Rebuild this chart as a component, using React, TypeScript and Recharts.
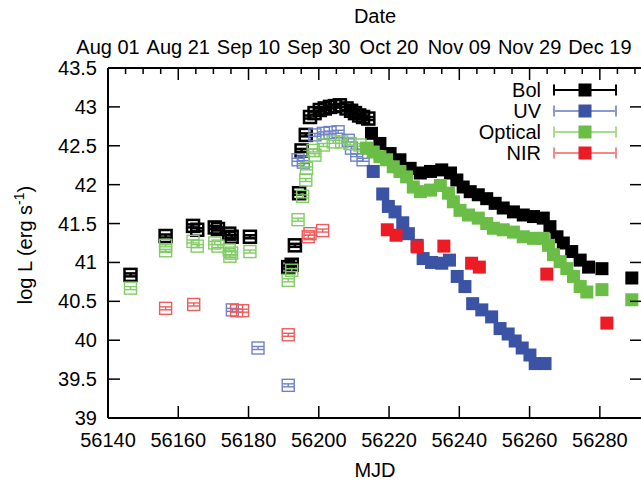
import React from "react";
import {
	ScatterChart,
	Scatter,
	XAxis,
	YAxis,
	ReferenceLine,
	Legend,
} from "recharts";

// [MJD, log L]
const bolOpen: [number, number][] = [
	[56146.4, 40.84], [56156.4, 41.34], [56164.2, 41.47], [56165.4, 41.42],
	[56170.4, 41.45], [56171.3, 41.43], [56174.5, 41.37], [56175.2, 41.33],
	[56180.4, 41.33], [56191.3, 40.94], [56192.3, 40.97], [56193.2, 41.22],
	[56194.4, 41.89], [56195.1, 42.44], [56196.3, 42.64], [56197.5, 42.87],
	[56198.8, 42.92], [56200.3, 42.96], [56201.7, 42.98], [56203.2, 43.0],
	[56204.6, 43.01], [56206.0, 43.02], [56207.9, 42.98], [56209.2, 42.95],
	[56210.3, 42.92], [56211.5, 42.89], [56212.6, 42.87], [56214.1, 42.85],
];
const bolFilled: [number, number][] = [
	[56215.0, 42.66], [56217.4, 42.53], [56220.3, 42.4], [56223.1, 42.32],
	[56226.0, 42.21], [56228.9, 42.15], [56231.8, 42.17], [56235.0, 42.19],
	[56237.5, 42.15], [56239.3, 42.06], [56241.1, 41.97], [56243.1, 41.91],
	[56245.4, 41.87], [56247.8, 41.82], [56250.2, 41.76], [56252.5, 41.7],
	[56255.4, 41.65], [56258.2, 41.61], [56261.1, 41.59], [56263.9, 41.57],
	[56265.8, 41.46], [56267.8, 41.33], [56269.6, 41.25], [56272.0, 41.14],
	[56274.4, 41.03], [56276.8, 40.94], [56280.6, 40.92], [56289.1, 40.8],
];
const uvOpen: [number, number][] = [
	[56175.4, 40.39], [56182.7, 39.9], [56191.3, 39.42], [56194.1, 42.32],
	[56195.6, 42.29], [56198.9, 42.64], [56201.3, 42.66], [56203.2, 42.67],
	[56205.5, 42.68], [56208.4, 42.57], [56209.3, 42.47], [56210.8, 42.38],
	[56212.6, 42.32],
];
const uvFilled: [number, number][] = [
	[56215.5, 42.17], [56218.2, 41.88], [56219.8, 41.72], [56221.7, 41.65],
	[56223.9, 41.51], [56225.5, 41.37], [56228.0, 41.22], [56229.7, 41.05],
	[56232.1, 41.0], [56235.0, 40.99], [56237.2, 41.03], [56239.4, 40.82],
	[56241.6, 40.69], [56243.8, 40.47], [56246.4, 40.39], [56249.2, 40.3],
	[56251.6, 40.15], [56253.9, 40.08], [56255.9, 39.99], [56257.9, 39.9],
	[56260.1, 39.81], [56261.6, 39.7], [56264.4, 39.7],
];
const optOpen: [number, number][] = [
	[56146.4, 40.67], [56156.4, 41.22], [56156.4, 41.15], [56164.2, 41.27],
	[56165.4, 41.21], [56170.4, 41.25], [56171.3, 41.21], [56174.5, 41.16],
	[56175.2, 41.12], [56174.7, 41.08], [56180.4, 41.14], [56191.3, 40.77],
	[56192.3, 40.9], [56194.1, 41.55], [56195.4, 41.85], [56196.3, 42.06],
	[56196.5, 42.21], [56198.4, 42.44], [56198.9, 42.38], [56201.3, 42.51],
	[56204.1, 42.55], [56206.5, 42.55], [56208.9, 42.53], [56211.7, 42.51],
];
const optFilled: [number, number][] = [
	[56213.6, 42.47], [56215.5, 42.42], [56217.4, 42.36], [56219.3, 42.32],
	[56221.2, 42.23], [56223.1, 42.17], [56225.0, 42.1], [56226.9, 41.97],
	[56228.9, 41.91], [56231.8, 41.93], [56234.6, 41.99], [56236.9, 41.89],
	[56238.3, 41.78], [56240.2, 41.67], [56242.6, 41.61], [56245.4, 41.57],
	[56247.8, 41.5], [56249.7, 41.44], [56252.5, 41.42], [56255.4, 41.39],
	[56258.2, 41.33], [56261.1, 41.31], [56263.9, 41.31], [56265.4, 41.22],
	[56266.8, 41.1], [56268.7, 41.01], [56270.6, 40.92], [56272.5, 40.82],
	[56274.4, 40.69], [56276.3, 40.62], [56280.6, 40.65], [56289.1, 40.52],
];
const nirOpen: [number, number][] = [
	[56156.4, 40.41], [56164.4, 40.46], [56176.6, 40.38], [56178.3, 40.38],
	[56191.3, 40.07], [56197.0, 41.33], [56197.5, 41.37], [56201.1, 41.41],
];
const nirFilled: [number, number][] = [
	[56219.5, 41.42], [56222.0, 41.35], [56228.0, 41.2], [56235.6, 41.21],
	[56243.5, 40.99], [56245.7, 40.94], [56264.9, 40.85], [56282.0, 40.22],
];

const seriesNames = ["Bol", "UV", "Optical", "NIR"];
const seriesColors = ["#000000", "#3a53a4", "#6abd45", "#ed1c24"];
const barColors = ["#000000", "#8c9ad0", "#a9dc92", "#f28a8a"];
const openColors = ["#000000", "#6f82c6", "#82cc66", "#ef5c5c"];

const mjdTicks = [56140, 56160, 56180, 56200, 56220, 56240, 56260, 56280];
const dateLabels = ["Aug 01", "Aug 21", "Sep 10", "Sep 30", "Oct 20", "Nov 09", "Nov 29", "Dec 19"];
const minorTicks = Array.from({ length: 31 }, (_, i) => 56140 + i * 5);
const yTicks = [39, 39.5, 40, 40.5, 41, 41.5, 42, 42.5, 43, 43.5];

const FONT = '"Liberation Sans", Arial, Helvetica, sans-serif';
const W = 660;
const H = 483;
const PLOT_TOP = 68;
const PLOT_RIGHT = 642;
const PLOT_BOTTOM = 418;

const pts = (a: [number, number][]) => a.map(([x, y]) => ({ x, y }));

const openShape = (color: string, sw: number) => (p: any) => {
	const { cx, cy } = p;
	const s = 6;
	return (
		<g stroke={color} strokeWidth={sw} fill="none">
			<rect x={cx - s} y={cy - s} width={2 * s} height={2 * s} />
			<line x1={cx - s} x2={cx + s} y1={cy - 1.5} y2={cy - 1.5} />
			<line x1={cx - s} x2={cx + s} y1={cy + 1.5} y2={cy + 1.5} />
			<line x1={cx} x2={cx} y1={cy - 1.5} y2={cy + 1.5} />
		</g>
	);
};

const filledShape = (color: string) => (p: any) => {
	const { cx, cy } = p;
	return <rect x={cx - 6.5} y={cy - 6.5} width={13} height={13} fill={color} />;
};

const XTick = (p: any) => {
	const { x, payload } = p;
	const y = PLOT_BOTTOM;
	const v = payload.value;
	const idx = mjdTicks.indexOf(v);
	const major = idx >= 0;
	return (
		<g>
			{major && <line x1={x} x2={x} y1={y} y2={y - 12} stroke="#000" strokeWidth={1.5} />}
			{major && (
				<text x={x} y={y + 29} textAnchor="middle" fontSize={20} fontFamily={FONT} fill="#000">
					{v}
				</text>
			)}
			<line x1={x} x2={x} y1={PLOT_TOP} y2={PLOT_TOP + (major ? 12 : 6)} stroke="#000" strokeWidth={1.5} />
			{major && (
				<text x={x} y={PLOT_TOP - 14} textAnchor="middle" fontSize={20} fontFamily={FONT} fill="#000">
					{dateLabels[idx]}
				</text>
			)}
		</g>
	);
};

const YTick = (p: any) => {
	const { x, y, payload } = p;
	return (
		<g>
			<line x1={x} x2={x + 12} y1={y} y2={y} stroke="#000" strokeWidth={1.5} />
			<line x1={PLOT_RIGHT - 12} x2={PLOT_RIGHT} y1={y} y2={y} stroke="#000" strokeWidth={1.5} />
			<text x={x - 11} y={y + 7} textAnchor="end" fontSize={20} fontFamily={FONT} fill="#000">
				{payload.value}
			</text>
		</g>
	);
};

const LegendBox = () => (
	<svg width={W} height={H} style={{ position: "absolute", left: 0, top: 0, pointerEvents: "none" }}>
		<g fontFamily={FONT} fontSize={20} fill="#000">
			<text x={375} y={477} textAnchor="middle">MJD</text>
			<text x={375} y={23} textAnchor="middle">Date</text>
			<text x={32} y={245} textAnchor="middle" transform="rotate(-90 32 245)">
				log L (erg s<tspan dy={-8} fontSize={14}>-1</tspan>
				<tspan dy={8}>)</tspan>
			</text>
		</g>
		{seriesNames.map((name, i) => {
			const y = 90 + i * 21;
			return (
				<g key={name}>
					<text x={541} y={y + 7} textAnchor="end" fontSize={20} fontFamily={FONT} fill="#000">
						{name}
					</text>
					<line x1={554} x2={616} y1={y} y2={y} stroke={barColors[i]} strokeWidth={2} />
					<line x1={554} x2={554} y1={y - 5.5} y2={y + 5.5} stroke={barColors[i]} strokeWidth={2} />
					<line x1={616} x2={616} y1={y - 5.5} y2={y + 5.5} stroke={barColors[i]} strokeWidth={2} />
					<rect x={578.5} y={y - 6.5} width={13} height={13} fill={seriesColors[i]} />
				</g>
			);
		})}
	</svg>
);

export default function App() {
	const groups = [
		{ open: bolOpen, filled: bolFilled },
		{ open: uvOpen, filled: uvFilled },
		{ open: optOpen, filled: optFilled },
		{ open: nirOpen, filled: nirFilled },
	];
	return (
		<div style={{ position: "absolute", left: 0, top: 0, width: 641, height: 483, overflow: "hidden", background: "#fff" }}>
			<ScatterChart width={W} height={H} margin={{ top: PLOT_TOP, right: W - PLOT_RIGHT, bottom: 0, left: 0 }}>
				<XAxis
					dataKey="x"
					type="number"
					domain={[56140, 56292]}
					ticks={minorTicks}
					interval={0}
					height={H - PLOT_BOTTOM}
					tickSize={0}
					tickMargin={0}
					tickLine={false}
					tick={<XTick />}
					axisLine={{ stroke: "#000", strokeWidth: 2 }}
					allowDataOverflow
				/>
				<YAxis
					dataKey="y"
					type="number"
					domain={[39, 43.5]}
					ticks={yTicks}
					interval={0}
					width={108}
					tickSize={0}
					tickMargin={0}
					tickLine={false}
					tick={<YTick />}
					axisLine={{ stroke: "#000", strokeWidth: 2 }}
					allowDataOverflow
				/>
				<ReferenceLine y={43.5} stroke="#000" strokeWidth={2} />
				<ReferenceLine x={56292} stroke="#000" strokeWidth={2} />
				{groups.map((g, i) => [
					<Scatter
						key={`o${i}`}
						data={pts(g.open)}
						shape={openShape(openColors[i], i === 0 ? 2.5 : 1.4)}
						isAnimationActive={false}
					/>,
					<Scatter
						key={`f${i}`}
						data={pts(g.filled)}
						shape={filledShape(seriesColors[i])}
						isAnimationActive={false}
					/>,
				])}
				<Legend
					layout="vertical"
					align="center"
					verticalAlign="middle"
					wrapperStyle={{ left: 0, top: 0, width: W, height: H }}
					content={() => <LegendBox />}
				/>
			</ScatterChart>
		</div>
	);
}
